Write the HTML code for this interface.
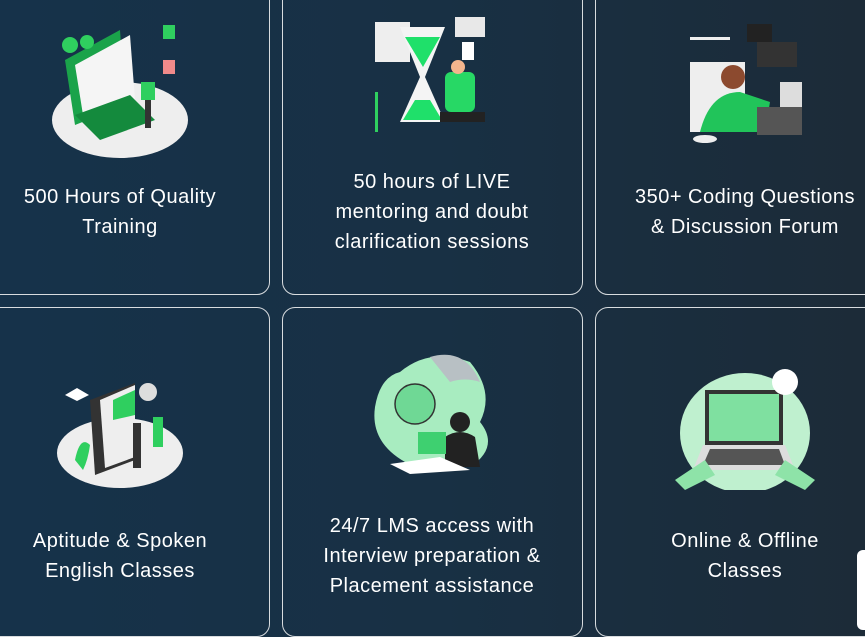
<!DOCTYPE html>
<html><head><style>
body{margin:0;width:865px;height:616px;overflow:hidden;background:linear-gradient(90deg,#16324a 0%,#183044 50%,#1c2b38 100%);font-family:"Liberation Sans",sans-serif;position:relative}
.c{position:absolute;width:298px;border:1.5px solid #d8dcdf;border-radius:13px;box-sizing:border-box}
.t{position:absolute;width:300px;text-align:center;color:#fff;font-size:20px;line-height:30px;letter-spacing:0.5px}
svg{position:absolute}
</style></head><body>
<div class="c" style="left:-30px;top:-20px;height:315px;width:300px"></div>
<div class="c" style="left:282px;top:-20px;height:315px;width:301px"></div>
<div class="c" style="left:595px;top:-20px;height:315px;width:300px"></div>
<div class="c" style="left:-30px;top:307px;height:330px;width:300px"></div>
<div class="c" style="left:282px;top:307px;height:330px;width:301px"></div>
<div class="c" style="left:595px;top:307px;height:330px;width:300px"></div>

<svg style="left:45px;top:20px" width="150" height="140">
<ellipse cx="75" cy="100" rx="68" ry="38" fill="#eeeeee"/>
<polygon points="20,40 75,10 80,85 30,105" fill="#1aa34a"/>
<polygon points="30,45 85,15 90,80 38,95" fill="#f5f5f5"/>
<polygon points="30,95 85,75 110,100 55,120" fill="#148a3d"/>
<circle cx="25" cy="25" r="8" fill="#2fcf5f"/><circle cx="42" cy="22" r="7" fill="#2fcf5f"/>
<rect x="118" y="5" width="12" height="14" fill="#2fcf5f"/><rect x="118" y="40" width="12" height="14" fill="#f08a8a"/>
<rect x="96" y="62" width="14" height="18" fill="#2fcf5f"/><rect x="100" y="80" width="6" height="28" fill="#333"/>
</svg>

<svg style="left:370px;top:12px" width="125" height="125">
<rect x="5" y="10" width="35" height="40" fill="#eee"/>
<rect x="85" y="5" width="30" height="20" fill="#e8e8e8"/>
<rect x="92" y="30" width="12" height="18" fill="#fff"/>
<path d="M30 15 H75 L55 65 L75 110 H30 L50 65 Z" fill="#f4f4f4"/>
<path d="M35 25 H70 L53 55 Z" fill="#1fe06a"/>
<path d="M33 108 H72 L60 88 H45 Z" fill="#1fe06a"/>
<rect x="75" y="60" width="30" height="40" rx="6" fill="#27d865"/>
<circle cx="88" cy="55" r="7" fill="#f3b58d"/>
<rect x="70" y="100" width="45" height="10" fill="#222"/>
<rect x="5" y="80" width="3" height="40" fill="#2fcf5f"/>
</svg>

<svg style="left:685px;top:22px" width="130" height="125">
<rect x="5" y="15" width="40" height="3" fill="#eee"/>
<rect x="62" y="2" width="25" height="18" fill="#222"/><rect x="72" y="20" width="40" height="25" fill="#333"/>
<rect x="5" y="40" width="55" height="70" fill="#eee"/>
<path d="M15 110 Q25 70 55 70 L85 80 L80 110 Z" fill="#21c45a"/>
<circle cx="48" cy="55" r="12" fill="#8c4a2f"/>
<rect x="72" y="85" width="45" height="28" fill="#555"/>
<rect x="95" y="60" width="22" height="25" fill="#ddd"/>
<ellipse cx="20" cy="117" rx="12" ry="4" fill="#eee"/>
</svg>

<svg style="left:55px;top:375px" width="130" height="115">
<ellipse cx="65" cy="78" rx="63" ry="35" fill="#eeeeee"/>
<polygon points="35,25 80,8 80,85 40,100" fill="#333"/>
<polygon points="45,25 80,10 80,82 50,93" fill="#eee"/>
<polygon points="58,25 80,15 80,40 58,45" fill="#2fcf5f"/>
<polygon points="10,20 22,13 34,20 22,26" fill="#fff"/>
<circle cx="93" cy="17" r="9" fill="#ddd"/>
<rect x="78" y="48" width="8" height="45" fill="#333"/><rect x="98" y="42" width="10" height="30" fill="#2fcf5f"/>
<path d="M20 85 Q25 60 35 70 Q33 85 28 95Z" fill="#2fcf5f"/>
</svg>

<svg style="left:370px;top:352px" width="130" height="125">
<path d="M30 20 Q60 -5 100 10 Q125 40 110 70 Q130 95 100 115 L35 110 Q0 90 5 55 Q10 25 30 20Z" fill="#a8ecc0"/>
<path d="M60 5 Q95 -5 110 30 Q95 25 80 30 Z" fill="#b8c0c4"/>
<circle cx="45" cy="52" r="20" fill="#6fd895" stroke="#333" stroke-width="1.5"/>
<circle cx="90" cy="70" r="10" fill="#222"/>
<path d="M75 85 Q90 75 105 85 L110 115 L75 115Z" fill="#222"/>
<rect x="48" y="80" width="28" height="22" fill="#3ed070"/>
<polygon points="20,112 70,105 100,118 40,122" fill="#fff"/>
</svg>

<svg style="left:675px;top:365px" width="140" height="125">
<ellipse cx="70" cy="68" rx="65" ry="60" fill="#bff0cf"/>
<rect x="30" y="25" width="78" height="55" fill="#333"/>
<rect x="34" y="29" width="70" height="47" fill="#7fe0a0"/>
<polygon points="28,80 110,80 120,105 18,105" fill="#ddd"/>
<polygon points="35,84 104,84 110,100 28,100" fill="#555"/>
<circle cx="110" cy="17" r="13" fill="#fff"/>
<path d="M0 115 L30 95 L40 110 L10 125Z" fill="#8ee3a8"/>
<path d="M140 115 L110 95 L100 110 L130 125Z" fill="#8ee3a8"/>
</svg>

<div class="t" style="left:-30px;top:182px">500 Hours of Quality<br>Training</div>
<div class="t" style="left:282px;top:167px">50 hours of LIVE<br>mentoring and doubt<br>clarification sessions</div>
<div class="t" style="left:595px;top:182px">350+ Coding Questions<br>&amp; Discussion Forum</div>
<div class="t" style="left:-30px;top:526px">Aptitude &amp; Spoken<br>English Classes</div>
<div class="t" style="left:282px;top:511px">24/7 LMS access with<br>Interview preparation &amp;<br>Placement assistance</div>
<div class="t" style="left:595px;top:526px">Online &amp; Offline<br>Classes</div>
<div style="position:absolute;left:857px;top:550px;width:20px;height:80px;background:#fff;border-radius:6px"></div>
</body></html>
